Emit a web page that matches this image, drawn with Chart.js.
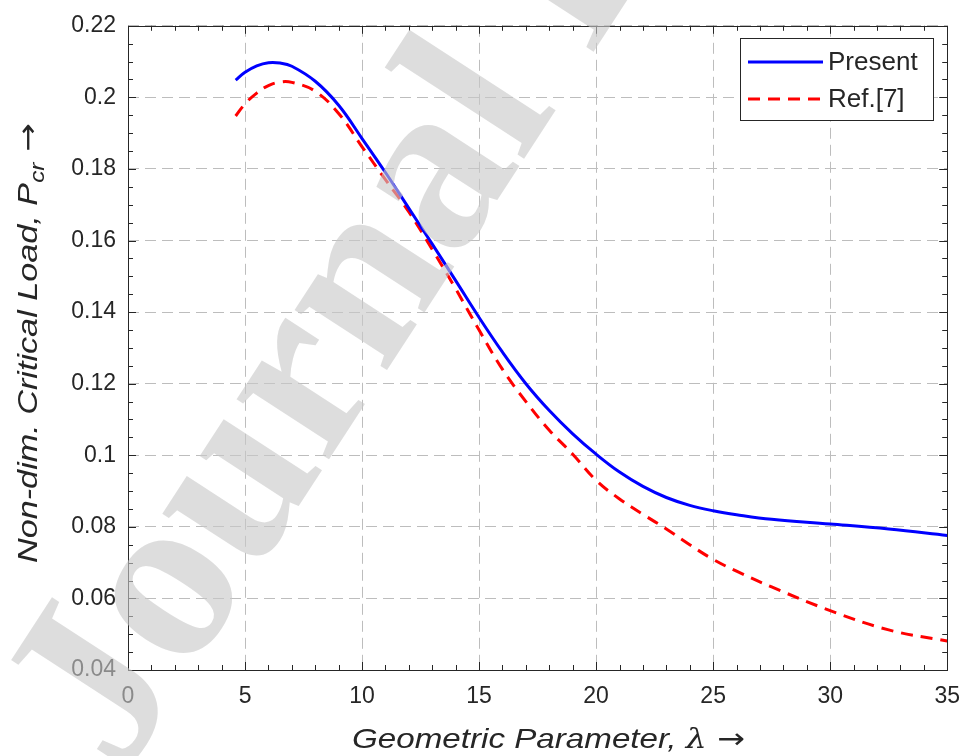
<!DOCTYPE html>
<html lang="en">
<head>
    <meta charset="UTF-8">
    <script src="https://cdn.jsdelivr.net/npm/chart.js"></script>
    <title>Critical Load vs Geometric Parameter</title>
    <style>
        html, body {
            margin: 0;
            padding: 0;
            background: #fff;
        }
        .chart-box {
            width: 973px;
            height: 756px;
            position: relative;
        }
    </style>
</head>
<body>
<div class="chart-box">
    <canvas id="loadChart"></canvas>
</div>

<script>
    // values
    const lambda = [4.6, 5, 5.5, 6, 6.5, 7, 8, 9, 10, 11, 12, 13, 14, 15, 16, 17, 18, 19, 20, 21, 22, 23, 24, 25, 26, 27.5, 30, 32.5, 35];
    const present = [0.2048, 0.2070, 0.2088, 0.2097, 0.2096, 0.2087, 0.2045, 0.1978, 0.1885, 0.1790, 0.1690, 0.1590, 0.1488,
        0.1385, 0.1288, 0.1200, 0.1125, 0.1060, 0.1003, 0.0953, 0.0913, 0.0882, 0.0860, 0.0845, 0.0834, 0.0821, 0.0808, 0.0794, 0.0776];
    const ref7 = [0.1948, 0.1982, 0.2012, 0.2033, 0.2043, 0.2042, 0.2017, 0.1955, 0.1862, 0.1770, 0.1680, 0.1575, 0.1465,
        0.1350, 0.1240, 0.1150, 0.1070, 0.1003, 0.0930, 0.0878, 0.0835, 0.0794, 0.0750, 0.0709, 0.0676, 0.0632, 0.0566, 0.0512, 0.0481];
    const seriesLabels = ['Present', 'Ref.[7]'];
    const xTicks = [0, 5, 10, 15, 20, 25, 30, 35];
    const yTicks = [0.04, 0.06, 0.08, 0.1, 0.12, 0.14, 0.16, 0.18, 0.2, 0.22];

    const axisColor = '#262626';
    const sansFont = '"Liberation Sans", Arial, sans-serif';

    // box, inward ticks, axis titles, legend and watermark
    const decorPlugin = {
        id: 'decor',
        afterDraw(chart) {
            const ctx = chart.ctx;
            const area = chart.chartArea;
            const xs = chart.scales.x;
            const ys = chart.scales.y;
            ctx.save();

            // minor + major ticks pointing inwards on all four sides
            ctx.strokeStyle = axisColor;
            ctx.lineWidth = 1;
            ctx.beginPath();
            for (let v = xTicks[0]; v <= xTicks[xTicks.length - 1]; v += 1) {
                const px = Math.round(xs.getPixelForValue(v)) + 0.5;
                const len = v % 5 === 0 ? 8 : 5;
                ctx.moveTo(px, area.bottom); ctx.lineTo(px, area.bottom - len);
                ctx.moveTo(px, area.top); ctx.lineTo(px, area.top + len);
            }
            for (let i = 0; i <= 36; i++) {
                const v = yTicks[0] + i * 0.005;
                const py = Math.round(ys.getPixelForValue(v)) + 0.5;
                const len = i % 4 === 0 ? 8 : 5;
                ctx.moveTo(area.left, py); ctx.lineTo(area.left + len, py);
                ctx.moveTo(area.right, py); ctx.lineTo(area.right - len, py);
            }
            ctx.stroke();
            ctx.strokeRect(Math.round(area.left) + 0.5, Math.round(area.top) + 0.5,
                Math.round(area.right - area.left), Math.round(area.bottom - area.top));

            ctx.fillStyle = axisColor;
            ctx.textBaseline = 'alphabetic';
            ctx.textAlign = 'left';

            // x title
            const xParts = [
                {t: 'Geometric Parameter, ', f: 'italic 28px ' + sansFont},
                {t: '\u03BB', f: 'italic 28px "DejaVu Serif", serif'},
                {t: ' \u2192', f: '28px "DejaVu Sans", sans-serif'}
            ];
            let w = 0;
            xParts.forEach(p => { ctx.font = p.f; w += ctx.measureText(p.t).width; });
            let sx = 393 / w;
            ctx.save();
            ctx.translate(352, 748);
            ctx.scale(sx, 1);
            let cx = 0;
            xParts.forEach(p => { ctx.font = p.f; ctx.fillText(p.t, cx, 0); cx += ctx.measureText(p.t).width; });
            ctx.restore();

            // y title (with subscript)
            const yParts = [
                {t: 'Non-dim. Critical Load, ', f: 'italic 28px ' + sansFont, dy: 0},
                {t: 'P', f: 'italic 28px ' + sansFont, dy: 0},
                {t: 'cr', f: 'italic 20px ' + sansFont, dy: 7},
                {t: ' \u2192', f: '28px "DejaVu Sans", sans-serif', dy: 0}
            ];
            w = 0;
            yParts.forEach(p => { ctx.font = p.f; w += ctx.measureText(p.t).width; });
            sx = 440 / w;
            ctx.save();
            ctx.translate(37, 563);
            ctx.rotate(-Math.PI / 2);
            ctx.scale(sx, 1);
            cx = 0;
            yParts.forEach(p => { ctx.font = p.f; ctx.fillText(p.t, cx, p.dy); cx += ctx.measureText(p.t).width; });
            ctx.restore();

            // legend box in the upper right
            const lx = 740.5, ly = 38.5, lw = 193, lh = 82;
            ctx.fillStyle = '#fff';
            ctx.fillRect(lx, ly, lw, lh);
            ctx.strokeStyle = axisColor;
            ctx.lineWidth = 1;
            ctx.strokeRect(lx, ly, lw, lh);
            chart.data.datasets.forEach((ds, i) => {
                const rowY = 62 + i * 37;
                ctx.strokeStyle = ds.borderColor;
                ctx.lineWidth = ds.borderWidth;
                ctx.setLineDash(ds.borderDash || []);
                ctx.beginPath();
                ctx.moveTo(748, rowY);
                ctx.lineTo(823, rowY);
                ctx.stroke();
                ctx.setLineDash([]);
                ctx.fillStyle = axisColor;
                ctx.font = '26px ' + sansFont;
                ctx.textBaseline = 'middle';
                ctx.fillText(ds.label, 828, rowY + 1);
            });

            // "Journal Pre-proof" watermark laid over the figure
            ctx.save();
            ctx.translate(122, 778);
            ctx.rotate(-57 * Math.PI / 180);
            ctx.font = 'bold 240px "Liberation Serif", serif';
            ctx.textBaseline = 'alphabetic';
            ctx.fillStyle = 'rgba(200, 200, 200, 0.62)';
            ctx.fillText('Journal Pre-proof', 0, 0);
            ctx.restore();

            ctx.restore();
        }
    };

    const ctx = document.getElementById('loadChart').getContext('2d');
    const loadChart = new Chart(ctx, {
        type: 'line',
        data: {
            datasets: [{
                label: seriesLabels[0],
                data: lambda.map((x, i) => ({x: x, y: present[i]})),
                borderColor: '#0000ff',
                borderWidth: 3,
                pointRadius: 0,
                tension: 0.4,
                fill: false
            }, {
                label: seriesLabels[1],
                data: lambda.map((x, i) => ({x: x, y: ref7[i]})),
                borderColor: '#ff0000',
                borderWidth: 3,
                borderDash: [12, 8],
                pointRadius: 0,
                tension: 0.4,
                fill: false
            }]
        },
        options: {
            responsive: true,
            maintainAspectRatio: false,
            animation: false,
            layout: {
                padding: {top: 19, right: 21, left: 0, bottom: 0}
            },
            plugins: {
                legend: {display: false},
                tooltip: {enabled: false}
            },
            scales: {
                x: {
                    type: 'linear',
                    min: 0,
                    max: 35,
                    afterFit: s => { s.height = 86; },
                    afterBuildTicks: s => { s.ticks = xTicks.map(v => ({value: v})); },
                    grid: {
                        color: '#bdbdbd',
                        lineWidth: 1,
                        drawTicks: false
                    },
                    border: {display: false, dash: [11, 6]},
                    ticks: {
                        color: axisColor,
                        padding: 13,
                        maxRotation: 0,
                        font: {family: sansFont, size: 23}
                    }
                },
                y: {
                    type: 'linear',
                    min: 0.04,
                    max: 0.22,
                    afterFit: s => { s.width = 128; },
                    afterBuildTicks: s => { s.ticks = yTicks.map(v => ({value: v})); },
                    grid: {
                        color: '#bdbdbd',
                        lineWidth: 1,
                        drawTicks: false
                    },
                    border: {display: false, dash: [11, 6]},
                    ticks: {
                        color: axisColor,
                        padding: 12,
                        font: {family: sansFont, size: 23},
                        callback: v => String(+v.toFixed(2))
                    }
                }
            }
        },
        plugins: [decorPlugin]
    });
</script>
</body>
</html>
